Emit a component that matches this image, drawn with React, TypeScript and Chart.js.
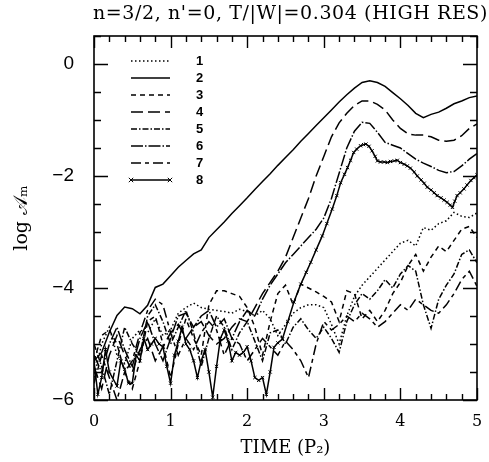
import React, { useEffect, useRef } from 'react';
import { Chart, registerables } from 'chart.js';

Chart.register(...registerables);

const TITLE = "n=3/2, n'=0, T/|W|=0.304 (HIGH RES)";
const X_TITLE = 'TIME (P\u2082)';
const Y_TITLE = 'log \uD835\uDC9C\u2098';

const TIME = [
  0, 0.1, 0.2, 0.3, 0.4, 0.5, 0.6, 0.7, 0.8, 0.9,
  1.0, 1.1, 1.2, 1.3, 1.4, 1.5, 1.6, 1.7, 1.8, 1.9,
  2.0, 2.1, 2.2, 2.3, 2.4, 2.5, 2.6, 2.7, 2.8, 2.9,
  3.0, 3.1, 3.2, 3.3, 3.4, 3.5, 3.6, 3.7, 3.8, 3.9,
  4.0, 4.1, 4.2, 4.3, 4.4, 4.5, 4.6, 4.7, 4.8, 4.9, 5.0,
];

const M1 = [
  -5.6, -5.0, -4.7, -5.2, -5.35, -4.9, -4.75, -4.8, -4.55, -4.85,
  -4.75, -4.45, -4.35, -4.27, -4.35, -4.38, -4.4, -4.42, -4.45, -4.38,
  -4.42, -4.5, -4.4, -4.55, -4.85, -4.65, -4.45, -4.35, -4.3, -4.3,
  -4.35, -4.65, -5.0, -4.5, -4.15, -3.95, -3.8, -3.65, -3.5, -3.35,
  -3.2, -3.15, -3.25, -2.92, -2.97, -2.85, -2.8, -2.65, -2.72, -2.74, -2.66,
];

const M2 = [
  -5.3, -5.15, -4.79, -4.49, -4.34, -4.37, -4.46, -4.31, -3.99, -3.93,
  -3.78, -3.63, -3.51, -3.39, -3.32, -3.1, -2.96, -2.82, -2.67, -2.53,
  -2.39, -2.24, -2.1, -1.96, -1.81, -1.67, -1.53, -1.38, -1.24, -1.1,
  -0.96, -0.82, -0.68, -0.55, -0.43, -0.33, -0.3, -0.33, -0.4, -0.51,
  -0.62, -0.74, -0.88, -0.96, -0.9, -0.86, -0.79, -0.71, -0.66, -0.6, -0.57,
];

const M3 = [
  -5.3, -4.85, -4.75, -5.0, -5.5, -5.8, -5.3, -4.6, -4.5, -5.0,
  -5.6, -5.0, -4.55, -4.9, -5.2, -4.3, -4.05, -4.05, -4.1, -4.15,
  -4.35, -4.7, -5.2, -4.6, -4.1, -3.95, -4.3, -3.93, -4.0, -4.07,
  -4.15, -4.25, -4.6, -4.05, -4.1, -4.55, -4.4, -4.6, -4.4, -4.1,
  -3.9, -3.6, -3.4, -3.7, -3.45, -3.25, -3.35, -3.15, -2.95, -2.9, -3.1,
];

const M4 = [
  -5.4, -5.8, -5.2, -4.85, -5.2, -5.5, -5.1, -4.9, -5.3, -5.05,
  -4.8, -4.65, -4.9, -4.7, -4.6, -4.85, -5.0, -4.9, -4.7, -4.55,
  -4.6, -4.35, -4.1, -3.9, -3.7, -3.45, -3.1, -2.75, -2.4, -2.0,
  -1.65, -1.3, -1.05, -0.88, -0.74, -0.66, -0.66, -0.72, -0.82, -1.0,
  -1.15, -1.25, -1.27, -1.27, -1.3, -1.36, -1.38, -1.36, -1.28, -1.15, -1.07,
];

const M5 = [
  -5.0, -5.4, -5.9, -5.3, -4.7, -5.0, -5.2, -4.5, -4.3, -4.6,
  -5.0, -4.7, -4.4, -4.8, -5.4, -4.9, -4.5, -4.7, -5.1, -4.8,
  -4.6, -4.95, -5.3, -4.8, -4.75, -5.0, -4.7, -4.55, -4.75, -4.9,
  -4.7, -4.9, -5.15, -4.6, -4.3, -4.1, -4.2, -4.05, -3.85, -4.0,
  -3.75, -3.6, -3.7, -4.3, -4.72, -4.2, -3.95, -3.75, -3.4, -3.32, -3.55,
];

const M6 = [
  -5.2, -5.5, -5.0, -4.7, -5.1, -5.4, -4.9, -4.6, -5.0, -5.3,
  -4.9, -4.5, -4.45, -4.7, -4.5, -4.4, -4.7, -4.55, -4.9, -4.6,
  -4.4, -4.5, -4.2, -3.95, -3.75, -3.55, -3.4, -3.25, -3.1, -2.95,
  -2.75, -2.4, -1.95, -1.5, -1.2, -1.04, -1.06, -1.22, -1.4, -1.45,
  -1.5, -1.6, -1.7, -1.77, -1.83, -1.9, -1.94, -1.92, -1.82, -1.7, -1.6,
];

const M7 = [
  -5.7, -5.2, -5.6, -6.0, -5.5, -5.3, -4.8, -4.4, -4.2, -4.3,
  -4.8, -5.2, -4.9, -5.1, -4.8, -4.6, -4.75, -5.2, -4.9, -5.0,
  -5.3, -5.1, -4.9, -5.05, -5.2, -4.95, -5.1, -5.3, -5.6, -5.0,
  -4.6, -4.75, -4.65, -4.5, -4.6, -4.45, -4.55, -4.7, -4.6, -4.45,
  -4.3, -4.4, -4.2, -4.3, -4.4, -4.45, -4.3, -4.1, -3.85, -3.7, -3.97,
];

const TIME_M8 = [
  0, 0.05, 0.1, 0.15, 0.2, 0.3, 0.35, 0.4, 0.45, 0.5,
  0.55, 0.6, 0.65, 0.7, 0.75, 0.8, 0.85, 0.9, 0.95, 1.0,
  1.05, 1.1, 1.15, 1.2, 1.25, 1.3, 1.35, 1.4, 1.45, 1.5,
  1.55, 1.6, 1.65, 1.7, 1.75, 1.8, 1.85, 1.9, 1.95, 2.0,
  2.05, 2.1, 2.15, 2.2, 2.25, 2.3, 2.35, 2.4, 2.46, 2.53,
  2.61, 2.7, 2.77, 2.83, 2.9, 2.98, 3.04, 3.11, 3.17, 3.22,
  3.27, 3.31, 3.35, 3.39, 3.43, 3.48, 3.52, 3.55, 3.59, 3.63,
  3.67, 3.7, 3.74, 3.79, 3.83, 3.87, 3.92, 3.96, 4.0, 4.05,
  4.09, 4.13, 4.18, 4.22, 4.27, 4.31, 4.35, 4.4, 4.44, 4.48,
  4.53, 4.57, 4.61, 4.65, 4.68, 4.71, 4.74, 4.78, 4.83, 4.87,
  4.92, 4.96, 5.0,
];

const M8 = [
  -5.3, -5.9, -5.6, -5.1, -5.5, -5.75, -5.3, -5.45, -5.7, -5.7,
  -5.2, -5.3, -4.9, -5.1, -5.0, -4.9, -5.0, -5.05, -5.4, -5.7,
  -5.2, -4.95, -4.7, -5.0, -5.1, -5.3, -5.6, -5.3, -5.1, -5.5,
  -5.95, -5.4, -4.9, -4.75, -4.95, -5.3, -5.15, -5.2, -5.15, -5.05,
  -5.3, -5.6, -5.65, -5.6, -5.9, -5.5, -5.06, -4.98, -4.91, -4.6,
  -4.25, -3.93, -3.72, -3.54, -3.32, -3.07, -2.85, -2.59, -2.35, -2.12,
  -1.97, -1.85, -1.72, -1.58, -1.52, -1.46, -1.44, -1.43, -1.47, -1.55,
  -1.65, -1.73, -1.75, -1.75, -1.76, -1.74, -1.73, -1.72, -1.76, -1.79,
  -1.82, -1.86, -1.93, -2.0, -2.07, -2.13, -2.2, -2.25, -2.3, -2.35,
  -2.39, -2.43, -2.47, -2.52, -2.56, -2.45, -2.35, -2.3, -2.23, -2.16,
  -2.08, -2.03, -1.98,
];

const LABELS = ['1', '2', '3', '4', '5', '6', '7', '8'];
const DASHES: number[][] = [
  [1.5, 2.5],
  [],
  [5, 4],
  [12, 5],
  [6, 2, 1.5, 2],
  [12, 2, 1.5, 2],
  [10, 4, 4, 4],
  [],
];

const pts = (xs: number[], ys: number[]) => xs.map((x, i) => ({ x, y: ys[i] }));

const frameTicks = {
  id: 'frameTicks',
  afterDraw(chart: any) {
    const { ctx, chartArea } = chart;
    const { left, right, top, bottom } = chartArea;
    const xs = chart.scales.x;
    const ys = chart.scales.y;
    ctx.save();
    ctx.strokeStyle = '#000';
    ctx.setLineDash([]);
    ctx.lineWidth = 1.4;
    for (let k = 0; k <= 25; k++) {
      const px = Math.round(xs.getPixelForValue(k / 5)) + 0.5;
      const len = k % 5 === 0 ? 12 : 6;
      ctx.beginPath();
      ctx.moveTo(px, bottom);
      ctx.lineTo(px, bottom - len);
      ctx.moveTo(px, top);
      ctx.lineTo(px, top + len);
      ctx.stroke();
    }
    for (let k = 0; k <= 13; k++) {
      const v = -6 + k * 0.5;
      const py = Math.round(ys.getPixelForValue(v)) + 0.5;
      const len = k % 4 === 0 ? 14 : 7;
      ctx.beginPath();
      ctx.moveTo(left, py);
      ctx.lineTo(left + len, py);
      ctx.moveTo(right, py);
      ctx.lineTo(right - len, py);
      ctx.stroke();
    }
    ctx.lineWidth = 1.6;
    ctx.strokeRect(left, top, right - left, bottom - top);

    // title
    ctx.fillStyle = '#000';
    ctx.font = '19px "DejaVu Serif"';
    (ctx as any).letterSpacing = '0.6px';
    ctx.textAlign = 'center';
    ctx.textBaseline = 'middle';
    ctx.fillText(TITLE, (left + right) / 2 + 5, 14);
    (ctx as any).letterSpacing = '0px';
    ctx.restore();
  },
};

const insetLegend = {
  id: 'insetLegend',
  afterDatasetsDraw(chart: any) {
    const { ctx, chartArea } = chart;
    const { left, top } = chartArea;
    ctx.save();
    chart.data.datasets.forEach((ds: any, i: number) => {
      const y = top + 25 + i * 17;
      const x0 = left + 37;
      const x1 = left + 76;
      ctx.strokeStyle = '#000';
      ctx.lineWidth = ds.borderWidth;
      ctx.setLineDash(ds.borderDash || []);
      ctx.beginPath();
      ctx.moveTo(x0, y);
      ctx.lineTo(x1, y);
      ctx.stroke();
      ctx.setLineDash([]);
      if (ds.pointRadius > 0) {
        ctx.lineWidth = 1;
        const r = 2.2;
        [x0, x1].forEach((cx) => {
          ctx.beginPath();
          ctx.moveTo(cx - r, y - r);
          ctx.lineTo(cx + r, y + r);
          ctx.moveTo(cx - r, y + r);
          ctx.lineTo(cx + r, y - r);
          ctx.stroke();
        });
      }
      ctx.fillStyle = '#000';
      ctx.font = 'bold 13px "Liberation Sans"';
      ctx.textAlign = 'left';
      ctx.textBaseline = 'middle';
      ctx.fillText(ds.label, left + 102, y);
    });
    ctx.restore();
  },
};

export default function App() {
  const ref = useRef<HTMLCanvasElement>(null);

  useEffect(() => {
    if (!ref.current) return;
    const series = [M1, M2, M3, M4, M5, M6, M7];
    const datasets: any[] = series.map((s, i) => ({
      label: LABELS[i],
      data: pts(TIME, s),
      borderColor: '#000',
      borderWidth: 1.5,
      borderDash: DASHES[i],
      pointRadius: 0,
      tension: 0,
      fill: false,
    }));
    datasets.push({
      label: LABELS[7],
      data: pts(TIME_M8, M8),
      borderColor: '#000',
      borderWidth: 1.5,
      borderDash: DASHES[7],
      pointRadius: 2.3,
      pointStyle: 'crossRot',
      pointBorderColor: '#000',
      pointBorderWidth: 1,
      tension: 0,
      fill: false,
    });

    const chart = new Chart(ref.current, {
      type: 'line',
      data: { datasets },
      plugins: [frameTicks, insetLegend],
      options: {
        animation: false,
        responsive: false,
        devicePixelRatio: 1,
        layout: { padding: { left: 0, right: 12, top: 36, bottom: 0 } },
        plugins: {
          legend: { display: false },
          tooltip: { enabled: false },
          title: { display: false },
        },
        scales: {
          x: {
            type: 'linear',
            min: 0,
            max: 5,
            grid: { display: false },
            border: { display: false },
            ticks: {
              stepSize: 1,
              color: '#000',
              padding: 4,
              font: { family: '"DejaVu Serif"', size: 16 },
              maxRotation: 0,
            },
            title: {
              display: true,
              text: X_TITLE,
              color: '#000',
              font: { family: '"DejaVu Serif"', size: 18 },
              padding: { top: 0, bottom: 3 },
            },
            afterFit: (s: any) => {
              s.height = 62;
            },
          },
          y: {
            type: 'linear',
            min: -6,
            max: 0.5,
            grid: { display: false },
            border: { display: false },
            ticks: {
              stepSize: 2,
              color: '#000',
              padding: 12,
              font: { family: '"Liberation Sans"', size: 19 },
              callback: (v: any) => {
                const n = Number(v);
                if (Math.abs(n % 2) > 1e-9) return '';
                return n === 0 ? '0' : '\u2212' + Math.abs(n);
              },
            },
            title: {
              display: true,
              text: Y_TITLE,
              color: '#000',
              font: { family: '"DejaVu Serif"', size: 19 },
              padding: { top: 11, bottom: 0 },
            },
            afterFit: (s: any) => {
              s.width = 94;
            },
          },
        },
      },
    });
    return () => chart.destroy();
  }, []);

  return (
    <div style={{ position: 'absolute', left: 0, top: 0, width: 489, height: 462, background: '#fff' }}>
      <canvas ref={ref} width={489} height={462} />
    </div>
  );
}
